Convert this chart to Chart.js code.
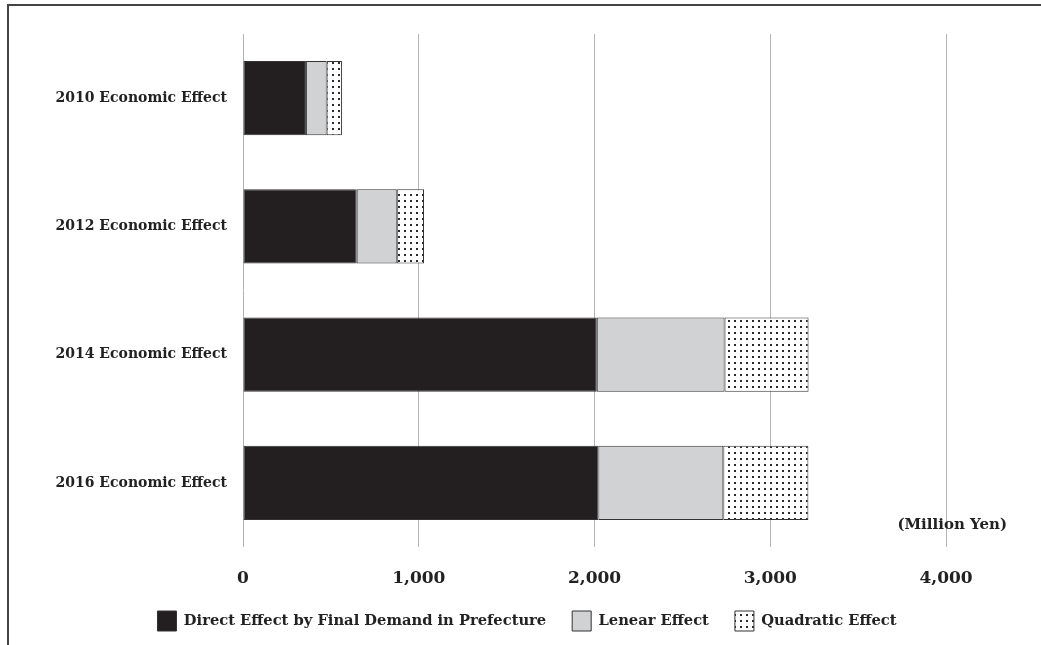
<!DOCTYPE html>
<html>
<head>
<meta charset="utf-8">
<script src="https://cdn.jsdelivr.net/npm/chart.js@4/dist/chart.umd.min.js"></script>
<style>
  html, body { margin: 0; padding: 0; background: #fff; overflow: hidden; }
  #wrap { position: relative; width: 1041px; height: 645px; }
  #frame { position: absolute; left: 7px; top: 4px; width: 1100px; height: 700px;
           border-left: 2px solid #444; border-top: 2px solid #444; box-sizing: border-box; }
  canvas { position: absolute; left: 0; top: 0; }
</style>
</head>
<body>
<div id="wrap">
  <div id="frame"></div>
  <canvas id="chart" width="1041" height="645"></canvas>
</div>
<script>
// Economic effect by survey year (million yen)
const categories = ['2010 Economic Effect', '2012 Economic Effect', '2014 Economic Effect', '2016 Economic Effect'];
const directEffect = [358, 647, 2013, 2022];
const linearEffect = [118, 228, 727, 711];
const quadraticEffect = [87, 155, 478, 484];
const seriesNames = ['Direct Effect by Final Demand in Prefecture', 'Lenear Effect', 'Quadratic Effect'];
const unitLabel = '(Million Yen)';
const xTicks = [0, 1000, 2000, 3000, 4000];

const SERIF = '"DejaVu Serif", "Liberation Serif", serif';

function withCommas(v) {
  return String(v).replace(/\B(?=(\d{3})+(?!\d))/g, ',');
}

function dotPattern(step, size) {
  const c = document.createElement('canvas');
  c.width = step; c.height = step;
  const g = c.getContext('2d');
  g.fillStyle = '#ffffff';
  g.fillRect(0, 0, step, step);
  g.fillStyle = '#2a2a2a';
  g.fillRect(2, 2, size, size);
  return g.createPattern(c, 'repeat');
}

const dots = dotPattern(6, 2);

// unit caption above the value axis, plus a small rightward shift of the legend row
const unitPlugin = {
  id: 'unitLabel',
  afterLayout(chart) {
    const lg = chart.legend;
    if (lg) { lg.left += 54; lg.right += 54; }
  },
  afterDraw(chart) {
    const ctx = chart.ctx;
    ctx.save();
    ctx.font = 'bold 15px ' + SERIF;
    ctx.fillStyle = '#222';
    ctx.textAlign = 'right';
    ctx.textBaseline = 'middle';
    ctx.fillText(unitLabel, 1007, 525);
    ctx.restore();
  }
};

new Chart(document.getElementById('chart'), {
  type: 'bar',
  data: {
    labels: categories,
    datasets: [
      { label: seriesNames[0], data: directEffect, backgroundColor: '#231f20', borderColor: '#333', borderWidth: 1 },
      { label: seriesNames[1], data: linearEffect, backgroundColor: '#d1d2d4', borderColor: '#333', borderWidth: 1 },
      { label: seriesNames[2], data: quadraticEffect, backgroundColor: dots, borderColor: '#333', borderWidth: 1 }
    ]
  },
  options: {
    indexAxis: 'y',
    responsive: false,
    animation: false,
    events: [],
    datasets: { bar: { categoryPercentage: 1, barPercentage: 0.58, borderSkipped: false } },
    layout: { padding: { top: 34, right: 95, bottom: 4, left: 0 } },
    scales: {
      x: {
        stacked: true,
        min: 0, max: 4000,
        afterBuildTicks(s) { s.ticks = xTicks.map(v => ({ value: v })); },
        afterFit(s) { s.height = 38; },
        grid: { color: '#b4b4b4', lineWidth: 1, drawTicks: false },
        border: { display: false },
        ticks: {
          padding: 21,
          color: '#222',
          font: { family: SERIF, size: 17, weight: 'bold' },
          callback: v => withCommas(v)
        }
      },
      y: {
        stacked: true,
        afterFit(s) { s.width = 243; },
        grid: { display: false },
        border: { display: false },
        ticks: {
          padding: 8,
          color: '#222',
          font: { family: SERIF, size: 14, weight: 'bold' }
        }
      }
    },
    plugins: {
      legend: {
        position: 'bottom',
        labels: {
          boxWidth: 19, boxHeight: 20, padding: 26,
          color: '#222',
          font: { family: SERIF, size: 14.7, weight: 'bold' }
        }
      },
      tooltip: { enabled: false }
    }
  },
  plugins: [unitPlugin]
});
</script>
</body>
</html>
